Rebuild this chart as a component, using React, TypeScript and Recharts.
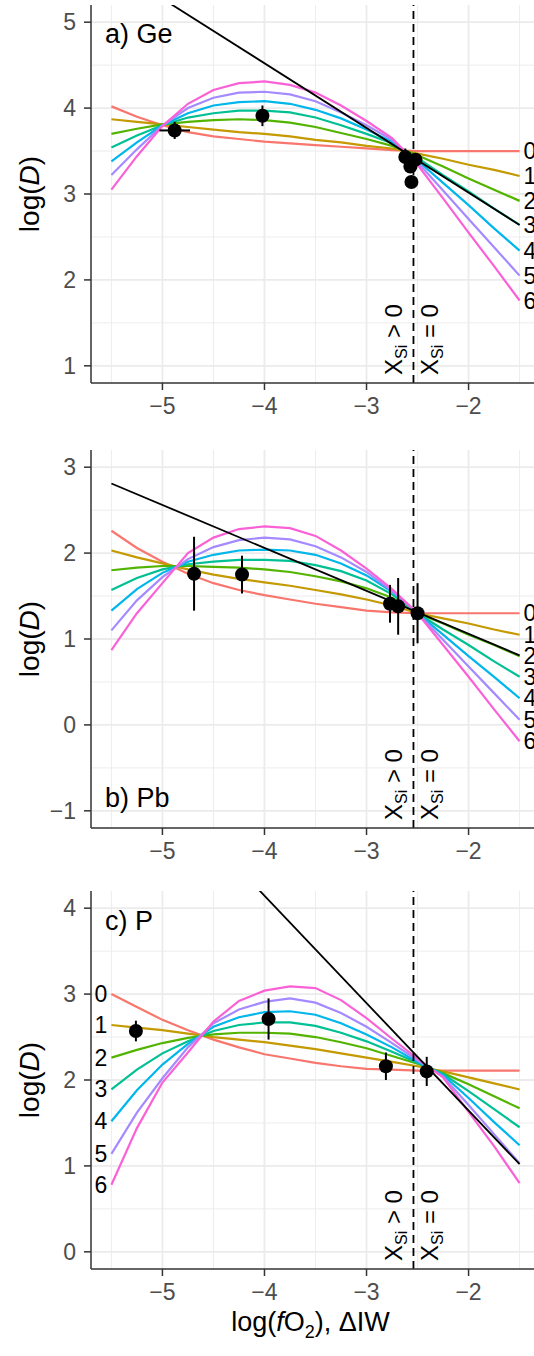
import React from "react";
import {
  ComposedChart,
  Line,
  Scatter,
  ErrorBar,
  XAxis,
  YAxis,
  CartesianGrid,
  ReferenceLine,
  Customized,
} from "recharts";

const FONT = "'Liberation Sans', Arial, Helvetica, sans-serif";

// shared x grid, log(fO2) relative to IW
const xs = [-5.5, -5.25, -5, -4.75, -4.5, -4.25, -4, -3.75, -3.5, -3.25, -3, -2.75, -2.5, -2.25, -2, -1.75, -1.5];
const xTicks = [-5, -4, -3, -2];
const xMinor = [-5.5, -4.5, -3.5, -2.5, -1.5];
const xDomain: [number, number] = [-5.7, -1.3];
const siLimit = -2.54;

// ggplot hue palette, one colour per curve 0..6
const hue = ["#F8766D", "#C49A00", "#53B400", "#00C094", "#00B6EB", "#A58AFF", "#FB61D7"];

// a) Ge
const geCurves = [
  [4.02, 3.9, 3.8, 3.72, 3.67, 3.64, 3.61, 3.59, 3.57, 3.55, 3.53, 3.51, 3.5, 3.5, 3.5, 3.5, 3.5],
  [3.87, 3.84, 3.81, 3.78, 3.75, 3.72, 3.7, 3.67, 3.63, 3.6, 3.56, 3.53, 3.47, 3.41, 3.34, 3.28, 3.21],
  [3.7, 3.76, 3.81, 3.84, 3.86, 3.87, 3.86, 3.83, 3.78, 3.71, 3.64, 3.56, 3.45, 3.32, 3.18, 3.05, 2.92],
  [3.54, 3.68, 3.8, 3.89, 3.94, 3.97, 3.97, 3.95, 3.89, 3.8, 3.7, 3.59, 3.42, 3.22, 3.03, 2.83, 2.64],
  [3.38, 3.6, 3.8, 3.94, 4.03, 4.07, 4.08, 4.05, 3.98, 3.88, 3.75, 3.61, 3.39, 3.13, 2.87, 2.6, 2.34],
  [3.22, 3.52, 3.8, 4.0, 4.12, 4.18, 4.19, 4.16, 4.08, 3.95, 3.8, 3.63, 3.37, 3.04, 2.71, 2.38, 2.05],
  [3.05, 3.44, 3.79, 4.05, 4.21, 4.29, 4.31, 4.27, 4.18, 4.03, 3.85, 3.65, 3.34, 2.95, 2.55, 2.16, 1.76],
];
const geFit = [5.65, null, null, null, null, null, null, null, null, null, null, null, null, null, null, null, 2.64];
const geObsX = [-4.88, -4.02, -2.62, -2.52, -2.57, -2.56];
const geObsY = [3.74, 3.91, 3.43, 3.4, 3.32, 3.14];
const geObsEx = [0.15, 0, 0, 0, 0, 0];
const geObsEy = [0.1, 0.12, 0.1, 0.05, 0.05, 0.03];

// b) Pb
const pbCurves = [
  [2.26, 2.06, 1.9, 1.76, 1.65, 1.57, 1.51, 1.46, 1.41, 1.37, 1.33, 1.31, 1.3, 1.3, 1.3, 1.3, 1.3],
  [2.03, 1.95, 1.88, 1.81, 1.75, 1.7, 1.66, 1.62, 1.57, 1.52, 1.46, 1.39, 1.3, 1.24, 1.18, 1.11, 1.05],
  [1.8, 1.83, 1.85, 1.85, 1.84, 1.83, 1.81, 1.78, 1.73, 1.67, 1.59, 1.48, 1.3, 1.18, 1.05, 0.93, 0.8],
  [1.57, 1.71, 1.81, 1.87, 1.9, 1.92, 1.92, 1.91, 1.86, 1.79, 1.68, 1.52, 1.3, 1.11, 0.93, 0.74, 0.56],
  [1.33, 1.58, 1.77, 1.9, 1.98, 2.03, 2.04, 2.03, 1.98, 1.88, 1.74, 1.55, 1.3, 1.05, 0.8, 0.56, 0.31],
  [1.1, 1.45, 1.72, 1.93, 2.07, 2.15, 2.18, 2.16, 2.08, 1.95, 1.78, 1.56, 1.3, 0.99, 0.68, 0.37, 0.06],
  [0.87, 1.3, 1.65, 2.0, 2.18, 2.28, 2.31, 2.29, 2.2, 2.03, 1.82, 1.58, 1.3, 0.93, 0.56, 0.18, -0.19],
];
const pbFit = [2.81, null, null, null, null, null, null, null, null, null, null, null, null, null, null, null, 0.81];
const pbObsX = [-4.69, -4.22, -2.77, -2.69, -2.5];
const pbObsY = [1.76, 1.75, 1.41, 1.38, 1.3];
const pbObsEx = [0, 0, 0, 0, 0];
const pbObsEy = [0.43, 0.22, 0.22, 0.33, 0.35];

// c) P
const pCurves = [
  [3.0, 2.85, 2.7, 2.58, 2.47, 2.38, 2.3, 2.25, 2.2, 2.16, 2.13, 2.12, 2.11, 2.11, 2.11, 2.11, 2.11],
  [2.64, 2.61, 2.58, 2.54, 2.5, 2.47, 2.44, 2.4, 2.36, 2.31, 2.26, 2.21, 2.16, 2.1, 2.03, 1.96, 1.89],
  [2.26, 2.35, 2.43, 2.49, 2.53, 2.55, 2.55, 2.54, 2.5, 2.44, 2.37, 2.28, 2.19, 2.08, 1.95, 1.81, 1.67],
  [1.89, 2.12, 2.31, 2.45, 2.57, 2.64, 2.67, 2.67, 2.63, 2.55, 2.45, 2.33, 2.2, 2.07, 1.87, 1.66, 1.45],
  [1.52, 1.88, 2.18, 2.42, 2.62, 2.73, 2.79, 2.8, 2.76, 2.66, 2.53, 2.38, 2.21, 2.06, 1.79, 1.51, 1.24],
  [1.14, 1.62, 2.02, 2.38, 2.66, 2.82, 2.91, 2.95, 2.9, 2.78, 2.62, 2.43, 2.23, 2.04, 1.71, 1.37, 1.03],
  [0.78, 1.44, 1.97, 2.32, 2.68, 2.92, 3.04, 3.09, 3.07, 2.93, 2.72, 2.48, 2.25, 2.03, 1.63, 1.23, 0.8],
];
const pFit = [6.02, null, null, null, null, null, null, null, null, null, null, null, null, null, null, null, 1.02];
const pObsX = [-5.26, -3.96, -2.81, -2.41];
const pObsY = [2.57, 2.71, 2.16, 2.1];
const pObsEx = [0, 0, 0, 0];
const pObsEy = [0.12, 0.24, 0.16, 0.17];

const minus = (v: number) => String(v).replace("-", "\u2212");

type PanelProps = {
  top: number;
  height: number;
  curves: number[][];
  fit: (number | null)[];
  obsX: number[];
  obsY: number[];
  obsEx: number[];
  obsEy: number[];
  yDomain: [number, number];
  yTicks: number[];
  yMinor: number[];
  tag: string;
  tagY: number;
  labelSide: "left" | "right";
  xTitle?: boolean;
};

const siLabel = (lp: any) => {
  const vb = lp.viewBox || {};
  const bx = vb.x;
  const by = vb.y + vb.height - 8;
  return (
    <g fontFamily={FONT} fontSize={24} fill="#000">
      <text transform={`translate(${bx - 11},${by}) rotate(-90)`}>
        X<tspan dy={5} fontSize={16}>Si</tspan>
        <tspan dy={-5}>{"\u00A0>\u00A00"}</tspan>
      </text>
      <text transform={`translate(${bx + 25},${by}) rotate(-90)`}>
        X<tspan dy={5} fontSize={16}>Si</tspan>
        <tspan dy={-5}>{"\u00A0=\u00A00"}</tspan>
      </text>
    </g>
  );
};

const yTitle = (lp: any) => {
  const vb = lp.viewBox || {};
  const cy = vb.y + vb.height / 2;
  return (
    <text
      transform={`translate(29,${cy}) rotate(-90)`}
      textAnchor="middle"
      dominantBaseline="central"
      fontSize={28}
      fontFamily={FONT}
      fill="#000"
    >
      log(<tspan fontStyle="italic">D</tspan>)
    </text>
  );
};

const xTitle = (lp: any) => {
  const vb = lp.viewBox || {};
  return (
    <text x={vb.x + vb.width / 2 - 5} y={vb.y + 62} textAnchor="middle" fontSize={27} fontFamily={FONT} fill="#000">
      log(<tspan fontStyle="italic">f</tspan>O<tspan dy={7} fontSize={18}>2</tspan>
      <tspan dy={-7}>), ΔIW</tspan>
    </text>
  );
};

function Panel(p: PanelProps) {
  const rows = xs.map((x, i) => {
    const r: Record<string, number | null> = { x, fit: p.fit[i] };
    p.curves.forEach((c, k) => {
      r["c" + k] = c[i];
    });
    return r;
  });
  const obs = p.obsX.map((x, i) => ({ x, y: p.obsY[i], ex: p.obsEx[i], ey: p.obsEy[i] }));
  const endIdx = p.labelSide === "right" ? xs.length - 1 : 0;

  const curveLabel = (k: number) => (lp: any) => {
    const idx = lp.index;
    if (idx !== endIdx) return null;
    const px = lp.x ?? lp.viewBox?.x;
    const py = lp.y ?? lp.viewBox?.y;
    const right = p.labelSide === "right";
    return (
      <text
        x={right ? px + 4 : px - 4}
        y={py}
        textAnchor={right ? "start" : "end"}
        dominantBaseline="central"
        fontSize={23}
        fontFamily={FONT}
        fill="#000"
      >
        {k}
      </text>
    );
  };

  return (
    <div style={{ position: "absolute", left: 0, top: p.top }}>
      <ComposedChart
        width={560}
        height={p.height}
        data={rows}
        margin={{ top: 5, right: 20, bottom: 0, left: 0 }}
      >
        <CartesianGrid stroke="#EBEBEB" strokeWidth={0.9} verticalValues={xMinor} horizontalValues={p.yMinor} />
        <CartesianGrid stroke="#EBEBEB" strokeWidth={1.8} verticalValues={xTicks} horizontalValues={p.yTicks} />
        <XAxis
          type="number"
          dataKey="x"
          domain={xDomain}
          ticks={xTicks}
          allowDataOverflow
          height={p.height - 383}
          tickSize={7}
          tickMargin={8}
          tickFormatter={minus}
          axisLine={{ stroke: "#333333", strokeWidth: 1.5 }}
          tickLine={{ stroke: "#333333", strokeWidth: 1.5 }}
          tick={{ fill: "#4D4D4D", fontSize: 23, fontFamily: FONT }}
          label={p.xTitle ? xTitle : undefined}
        />
        <XAxis
          xAxisId="top"
          orientation="top"
          type="number"
          domain={xDomain}
          allowDataOverflow
          height={0}
          tick={false}
          tickLine={false}
          axisLine={{ stroke: "#333333", strokeWidth: 1.5 }}
        />
        <YAxis
          type="number"
          domain={p.yDomain}
          ticks={p.yTicks}
          allowDataOverflow
          width={91}
          tickSize={7}
          tickMargin={8}
          tickFormatter={minus}
          axisLine={{ stroke: "#333333", strokeWidth: 1.5 }}
          tickLine={{ stroke: "#333333", strokeWidth: 1.5 }}
          tick={{ fill: "#4D4D4D", fontSize: 23, fontFamily: FONT }}
          label={yTitle}
        />
        {p.curves.map((_, k) => (
          <Line
            key={k}
            type="linear"
            dataKey={"c" + k}
            stroke={hue[k]}
            strokeWidth={2.2}
            dot={false}
            isAnimationActive={false}
            label={curveLabel(k)}
          />
        ))}
        <Line
          type="linear"
          dataKey="fit"
          stroke="#000000"
          strokeWidth={1.8}
          dot={false}
          connectNulls
          isAnimationActive={false}
        />
        <ReferenceLine x={siLimit} stroke="#000000" strokeWidth={1.8} strokeDasharray="8 5" label={siLabel} />
        <Scatter
          data={obs}
          dataKey="y"
          isAnimationActive={false}
          shape={(sp: any) => <circle cx={sp.cx} cy={sp.cy} r={7} fill="#000000" />}
        >
          <ErrorBar dataKey="ey" direction="y" width={0} stroke="#000000" strokeWidth={2} />
          <ErrorBar dataKey="ex" direction="x" width={0} stroke="#000000" strokeWidth={2} />
        </Scatter>
        <Customized
          component={() => (
            <text x={105} y={p.tagY} fontSize={27} fontFamily={FONT} fill="#000">
              {p.tag}
            </text>
          )}
        />
      </ComposedChart>
    </div>
  );
}

export default function App() {
  return (
    <div
      style={{
        position: "absolute",
        left: 0,
        top: 0,
        width: 534,
        height: 1356,
        overflow: "hidden",
        background: "#ffffff",
      }}
    >
      <Panel
        top={0}
        height={420}
        curves={geCurves}
        fit={geFit}
        obsX={geObsX}
        obsY={geObsY}
        obsEx={geObsEx}
        obsEy={geObsEy}
        yDomain={[0.8, 5.2]}
        yTicks={[1, 2, 3, 4, 5]}
        yMinor={[1.5, 2.5, 3.5, 4.5]}
        tag="a) Ge"
        tagY={43}
        labelSide="right"
      />
      <Panel
        top={445}
        height={420}
        curves={pbCurves}
        fit={pbFit}
        obsX={pbObsX}
        obsY={pbObsY}
        obsEx={pbObsEx}
        obsEy={pbObsEy}
        yDomain={[-1.2, 3.2]}
        yTicks={[-1, 0, 1, 2, 3]}
        yMinor={[-0.5, 0.5, 1.5, 2.5]}
        tag="b) Pb"
        tagY={362}
        labelSide="right"
      />
      <Panel
        top={886}
        height={470}
        curves={pCurves}
        fit={pFit}
        obsX={pObsX}
        obsY={pObsY}
        obsEx={pObsEx}
        obsEy={pObsEy}
        yDomain={[-0.2, 4.2]}
        yTicks={[0, 1, 2, 3, 4]}
        yMinor={[0.5, 1.5, 2.5, 3.5]}
        tag="c) P"
        tagY={44}
        labelSide="left"
        xTitle
      />
    </div>
  );
}
